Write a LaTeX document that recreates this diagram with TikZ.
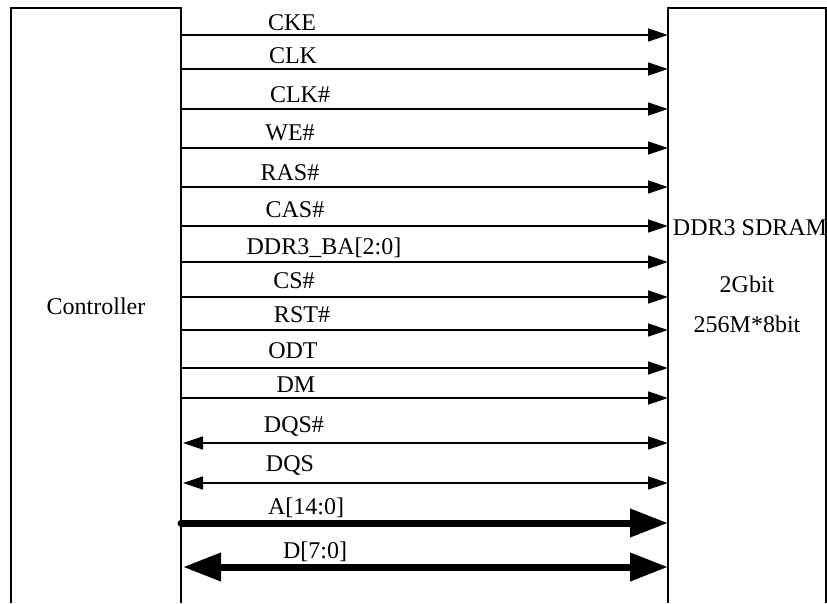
\documentclass[tikz,border=0pt]{standalone}
\usepackage{fontspec}
\setmainfont{Liberation Serif}
\usetikzlibrary{arrows.meta}
\begin{document}
\begin{tikzpicture}[x=1pt,y=-1pt,
  box/.style={line width=1.5pt},
  sig/.style={line width=1.5pt,-{Triangle[length=20pt,width=13pt]}},
  bisig/.style={line width=1.5pt,{Triangle[length=20pt,width=13pt]}-{Triangle[length=20pt,width=13pt]}},
  bus/.style={line width=7pt,line cap=round,-{Triangle[length=38pt,width=27pt]}},
  bibus/.style={line width=7pt,{Triangle[length=38pt,width=27pt]}-{Triangle[length=38pt,width=27pt]}},
  lbl/.style={anchor=base,inner sep=0pt,font=\fontsize{24}{28}\selectfont}]
\useasboundingbox (0,0) rectangle (827,603);
\fill[white] (0,0) rectangle (827,603);
% boxes (open at the bottom)
\draw[box] (11,603) -- (11,8) -- (181,8) -- (181,603);
\draw[box] (668,603) -- (668,8) -- (826,8) -- (826,603);
\node[lbl] (ctrl) at (96,314) {Controller};
\node[lbl] (mem1) at (750,235) {DDR3 SDRAM};
\node[lbl] (mem2) at (747,292) {2Gbit};
\node[lbl] (mem3) at (747,332) {256M*8bit};
% unidirectional signals
\foreach \i/\y/\x/\b/\t in {
  1/35/292/30/CKE,
  2/69/293/63/CLK,
  3/109/300/102/CLK\#,
  4/148/290/140/WE\#,
  5/187/290/180/RAS\#,
  6/226/295/217/CAS\#,
  7/262/324/254/DDR3\_BA[2:0],
  8/297/294/288/CS\#,
  9/330/302/322/RST\#,
  10/368/293/358/ODT,
  11/398/296/392/DM}{
  \coordinate (s\i L) at (181,\y);
  \coordinate (s\i R) at (668,\y);
  \draw[sig] (s\i L) -- (s\i R);
  \node[lbl] (t\i) at (\x,\b) {\t};
}
% bidirectional strobes
\foreach \i/\y/\x/\b/\t in {
  12/443/294/432/DQS\#,
  13/483/290/471/DQS}{
  \coordinate (s\i L) at (183,\y);
  \coordinate (s\i R) at (668,\y);
  \draw[bisig] (s\i L) -- (s\i R);
  \node[lbl] (t\i) at (\x,\b) {\t};
}
% buses
\coordinate (s14L) at (181,523);
\coordinate (s14R) at (668,523);
\draw[bus] (s14L) -- (s14R);
\node[lbl] (t14) at (306,514) {A[14:0]};
\coordinate (s15L) at (183,567);
\coordinate (s15R) at (668,567);
\draw[bibus] (s15L) -- (s15R);
\node[lbl] (t15) at (315,558) {D[7:0]};
\end{tikzpicture}
\end{document}
